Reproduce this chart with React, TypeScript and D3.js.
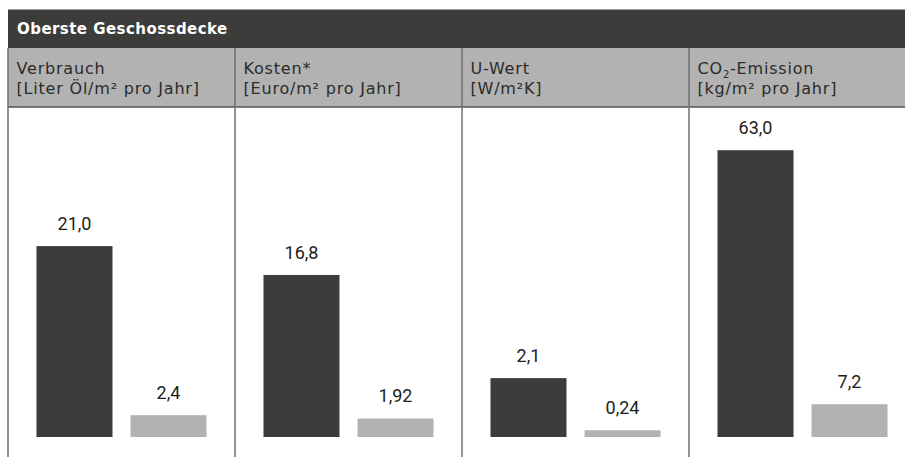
import React from "react";
import * as d3 from "d3";

const title = "Oberste Geschossdecke";
const categories = ["Verbrauch", "Kosten", "U-Wert", "CO2"];
const headerLine1 = ["Verbrauch", "Kosten*", "U-Wert", "CO2-Emission"];
const headerLine2 = ["[Liter Öl/m² pro Jahr]", "[Euro/m² pro Jahr]", "[W/m²K]", "[kg/m² pro Jahr]"];
const series = ["vorher", "nachher"];
const valuesBefore = [21.0, 16.8, 2.1, 63.0];
const valuesAfter = [2.4, 1.92, 0.24, 7.2];
const labelsBefore = ["21,0", "16,8", "2,1", "63,0"];
const labelsAfter = ["2,4", "1,92", "0,24", "7,2"];
const panelScaleMax = [33, 31.1, 10.7, 65.9];

const W = 905;
const H = 457;
const left = 8;
const panelW = 227;
const titleTop = 9.5;
const titleBottom = 48;
const headBottom = 107;
const baseY = 437;
const barAreaH = 300;

const DARK = "#3c3c3b";
const GREY = "#b2b2b2";
const LINE = "#6f6f6f";
const HEADFONT = "'DejaVu Sans', sans-serif";
const NUMFONT = "Roboto, 'DejaVu Sans', sans-serif";

export default function App() {
  const xPanel = d3
    .scaleBand<string>()
    .domain(categories)
    .range([left, left + panelW * categories.length])
    .padding(0);
  const xInner = d3
    .scaleBand<string>()
    .domain(series)
    .range([0, xPanel.bandwidth()])
    .paddingInner(0.1915)
    .paddingOuter(0.303);

  return (
    <svg
      width={W}
      height={H}
      style={{ position: "absolute", left: 0, top: 0, display: "block" }}
      fontFamily={HEADFONT}
    >
      <rect x={0} y={0} width={W} height={H} fill="#fff" />
      <rect x={left} y={titleTop} width={W - left} height={titleBottom - titleTop} fill={DARK} />
      <text x={17} y={33.5} fill="#fff" fontWeight={700} fontSize={15} letterSpacing={0.45}>
        {title}
      </text>
      <rect x={left} y={titleBottom} width={W - left} height={headBottom - titleBottom} fill={GREY} />
      <line x1={left} x2={W} y1={headBottom} y2={headBottom} stroke="#555" strokeWidth={1.6} />
      {categories.map((c, i) => {
        const px = xPanel(c)!;
        const y = d3.scaleLinear().domain([0, panelScaleMax[i]]).range([baseY, baseY - barAreaH]);
        const vals = [valuesBefore[i], valuesAfter[i]];
        const labs = [labelsBefore[i], labelsAfter[i]];
        return (
          <g key={c}>
            <line x1={px} x2={px} y1={titleBottom} y2={H} stroke={LINE} strokeWidth={1.5} />
            <text x={px + 8.5} y={73.5} fontSize={16} fill="#2b2b2a" letterSpacing={0.8}>
              {i === 3 ? (
                <>
                  <tspan>CO</tspan>
                  <tspan fontSize={10} dy={4}>2</tspan>
                  <tspan dy={-4}>-Emission</tspan>
                </>
              ) : (
                headerLine1[i]
              )}
            </text>
            <text x={px + 8.5} y={93.5} fontSize={16} fill="#2b2b2a" letterSpacing={0.8}>
              {headerLine2[i]}
            </text>
            {series.map((s, j) => {
              const bx = px + xInner(s)!;
              const top = y(vals[j]);
              return (
                <g key={s}>
                  <rect
                    x={bx}
                    y={top}
                    width={xInner.bandwidth()}
                    height={baseY - top}
                    fill={j === 0 ? DARK : GREY}
                  />
                  <text
                    x={bx + xInner.bandwidth() / 2}
                    y={top - 16}
                    textAnchor="middle"
                    fontFamily={NUMFONT}
                    fontSize={18}
                    fill="#1d1d1b"
                  >
                    {labs[j]}
                  </text>
                </g>
              );
            })}
          </g>
        );
      })}
    </svg>
  );
}
